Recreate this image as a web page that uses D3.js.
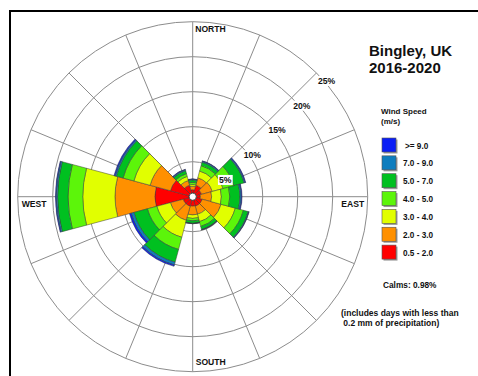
<!DOCTYPE html>
<html>
<head>
<meta charset="utf-8">
<script src="https://cdn.jsdelivr.net/npm/d3@7"></script>
<style>
  html, body { margin: 0; padding: 0; background: #fff; }
  svg { display: block; }
  text { font-family: "Liberation Sans", Arial, Helvetica, sans-serif; font-weight: bold; fill: #111; }
</style>
</head>
<body>
<svg id="chart" width="478" height="376"></svg>
<script>
// Wind directions (degrees clockwise from north), one 30° sector each
const directions = [0, 30, 60, 90, 120, 150, 180, 210, 240, 270, 300, 330];

// Frequency (% of time) per speed class and direction
const speed05to2 = [1.0, 1.7, 1.3, 1.1, 1.4, 1.4, 1.35, 1.4, 1.4, 5.4, 3.3, 1.7];
const speed2to3  = [0.5, 1.1, 1.6, 1.6, 2.8, 1.2, 1.25, 2.1, 1.9, 5.7, 3.0, 0.7];
const speed3to4  = [0.25, 1.0, 1.6, 1.4, 2.1, 1.1, 0.5, 2.5, 2.0, 4.6, 2.4, 0.6];
const speed4to5  = [0.3, 0.8, 1.6, 1.2, 1.2, 0.7, 0.35, 1.8, 1.4, 2.1, 1.6, 0.4];
const speed5to7  = [0.35, 0.5, 1.5, 1.45, 0.7, 0.45, 0.35, 1.9, 2.0, 1.5, 1.0, 0.45];
const speed7to9  = [0.1, 0.15, 0.15, 0.2, 0.1, 0.05, 0.05, 0.4, 0.4, 0.2, 0.2, 0.15];
const speed9plus = [0.05, 0.05, 0.1, 0.1, 0.05, 0.02, 0.02, 0.2, 0.25, 0.1, 0.15, 0.07];

const speedLabels = ["0.5 - 2.0", "2.0 - 3.0", "3.0 - 4.0", "4.0 - 5.0", "5.0 - 7.0", "7.0 - 9.0", ">= 9.0"];
const speedColors = ["#ff0000", "#ff9000", "#e1ff00", "#5cf50a", "#00c020", "#0e7dbe", "#0a1ef5"];
const speedSeries = [speed05to2, speed2to3, speed3to4, speed4to5, speed5to7, speed7to9, speed9plus];

const ringTicks = [5, 10, 15, 20, 25];
const ringLabels = ["5%", "10%", "15%", "20%", "25%"];
const compassLabels = ["NORTH", "EAST", "SOUTH", "WEST"];
const titleLines = ["Bingley, UK", "2016-2020"];
const legendTitle = ["Wind Speed", "(m/s)"];
const calmsText = "Calms: 0.98%";
const noteLines = ["(includes days with less than", " 0.2 mm of precipitation)"];

const svg = d3.select("#chart");
const cx = 192.7, cy = 196.7, R = 175, hole = 3.6;

// Frame
svg.append("rect").attr("x", 10).attr("y", 11).attr("width", 520).attr("height", 420)
  .attr("fill", "none").attr("stroke", "#000").attr("stroke-width", 2);

const g = svg.append("g").attr("transform", `translate(${cx},${cy})`);

const r = d3.scaleLinear().domain([0, 25]).range([0, R]);
const angle = d3.scaleBand().domain(directions)
  .range([-Math.PI / 12, 2 * Math.PI - Math.PI / 12]).padding(0);

// Grid: rings and 16 spokes
g.selectAll("circle.ring").data(ringTicks).join("circle")
  .attr("class", "ring").attr("r", d => r(d))
  .attr("fill", "none").attr("stroke", "#8c8c8c").attr("stroke-width", 1);
g.selectAll("line.spoke").data(d3.range(16)).join("line")
  .attr("class", "spoke")
  .attr("x1", 0).attr("y1", 0)
  .attr("x2", i => R * Math.sin(i * Math.PI / 8))
  .attr("y2", i => -R * Math.cos(i * Math.PI / 8))
  .attr("stroke", "#8c8c8c").attr("stroke-width", 1);

// Stacked petals
const keys = speedLabels;
const rows = directions.map((dir, i) => {
  const row = { dir };
  keys.forEach((k, j) => row[k] = speedSeries[j][i]);
  return row;
});
const stacked = d3.stack().keys(keys)(rows);

const arc = d3.arc()
  .innerRadius(d => Math.max(hole, r(d[0])))
  .outerRadius(d => Math.max(hole, r(d[1])))
  .startAngle(d => angle(d.data.dir))
  .endAngle(d => angle(d.data.dir) + angle.bandwidth());

stacked.forEach((layer, j) => {
  g.append("g").selectAll("path").data(layer).join("path")
    .attr("d", arc)
    .attr("fill", speedColors[j])
    .attr("stroke", "#3a3a3a").attr("stroke-width", 0.5);
});

// Calm circle
g.append("circle").attr("r", hole).attr("fill", "#fff").attr("stroke", "#333").attr("stroke-width", 0.8);

// Ring labels along the north-east diagonal
ringTicks.forEach((t, i) => {
  const x = r(t) * Math.SQRT1_2, y = -r(t) * Math.SQRT1_2;
  const txt = g.append("text").attr("x", x + 1.5).attr("y", y + 11)
    .attr("font-size", 8.6).text(ringLabels[i]);
  const bb = txt.node().getBBox();
  g.insert("rect", () => txt.node())
    .attr("x", bb.x - 1).attr("y", bb.y).attr("width", bb.width + 2).attr("height", bb.height)
    .attr("fill", "#fff");
});

// Compass labels
g.append("text").attr("x", 2.5).attr("y", -R + 10.6).attr("font-size", 8.6).text(compassLabels[0]);
g.append("text").attr("x", R - 3.5).attr("y", 10).attr("text-anchor", "end").attr("font-size", 8.6).text(compassLabels[1]);
g.append("text").attr("x", 3).attr("y", R - 6.5).attr("font-size", 8.6).text(compassLabels[2]);
g.append("text").attr("x", -R + 4).attr("y", 10).attr("font-size", 8.6).text(compassLabels[3]);

// Title
svg.selectAll("text.title").data(titleLines).join("text").attr("class", "title")
  .attr("x", 369).attr("y", (d, i) => 56 + i * 17).attr("font-size", 15).text(d => d);

// Legend
svg.selectAll("text.ltitle").data(legendTitle).join("text").attr("class", "ltitle")
  .attr("x", 381).attr("y", (d, i) => 113.5 + i * 10).attr("font-size", 8).attr("font-weight", "normal")
  .style("font-weight", "600").text(d => d);

const legendOrder = d3.range(speedLabels.length).reverse();
const leg = svg.append("g");
legendOrder.forEach((j, i) => {
  const y = 138 + i * 17.85;
  leg.append("rect").attr("x", 383.5).attr("y", y + 1.5).attr("width", 14).attr("height", 14).attr("fill", "#9a9a9a");
  leg.append("rect").attr("x", 382).attr("y", y).attr("width", 14).attr("height", 14)
    .attr("fill", speedColors[j]).attr("stroke", "#555").attr("stroke-width", 0.6);
  leg.append("text").attr("x", j === 6 ? 405 : 403).attr("y", y + 10.5).attr("font-size", 8.2).text(speedLabels[j]);
});

svg.append("text").attr("x", 383).attr("y", 288).attr("font-size", 8.3).text(calmsText);
svg.selectAll("text.note").data(noteLines).join("text").attr("class", "note")
  .attr("x", 341).attr("y", (d, i) => 315.5 + i * 10.2).attr("font-size", 8.5)
  .attr("xml:space", "preserve").style("white-space", "pre").text(d => d);
</script>
</body>
</html>
